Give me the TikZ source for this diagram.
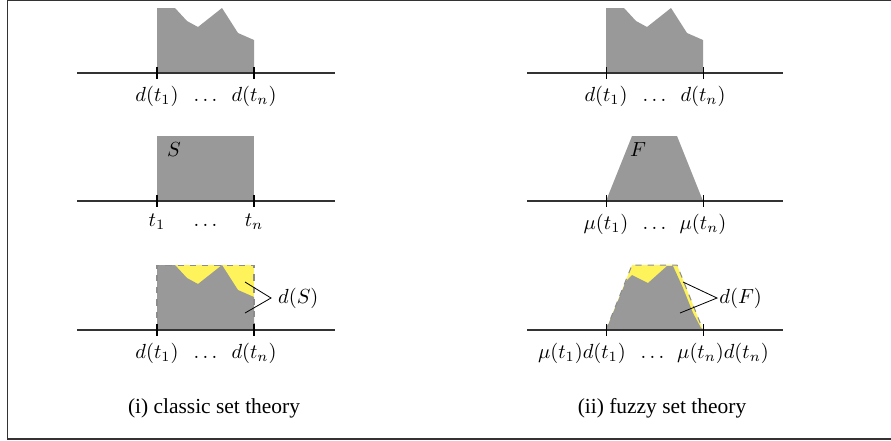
\documentclass[tikz,border=0pt]{standalone}
\usepackage{fontspec}
\newfontfamily\capfont{Liberation Serif}
\usetikzlibrary{positioning, calc}
\definecolor{setgray}{HTML}{999999}
\definecolor{setyellow}{HTML}{FFF35C}
\definecolor{framegray}{HTML}{333333}

\begin{document}
\begin{tikzpicture}[x=0.49pt, y=-0.49pt,
    axisline/.style={draw=black!80, line width=0.6pt},
    tickmark/.style={draw=black, line width=0.5pt},
    bound/.style={draw=black!45, dashed, line width=0.5pt},
    dotsnode/.style={anchor=base},
    caption/.style={font=\capfont\fontsize{10.5}{12}\selectfont}]
  \useasboundingbox (0,0) rectangle (891,440);
  \draw[framegray, line width=0.8pt] (895,0.5) -- (7.5,0.5) -- (7.5,439) -- (895,439);

  % (i) classic set theory
  \fill[setgray] (157,8) -- (175,8) -- (187,21) -- (198,27) -- (222,8) -- (238,33)
    -- (254,40) -- (254,73) -- (157,73) -- cycle;
  \draw[axisline] (77,73) -- (335,73);
  \draw[tickmark] (157,67) -- (157,79) coordinate (a1);
  \draw[tickmark] (254,67) -- (254,79) coordinate (an);
  \node[below=0pt of a1] (la1) {$d(t_1)$};
  \node[below=0pt of an] (lan) {$d(t_n)$};
  \node[dotsnode] (ladots) at ($(la1.base)!0.5!(lan.base)$) {$\ldots$};

  \fill[setgray] (157,136) rectangle (254,201);
  \node (S) at (174,150) {$S$};
  \draw[axisline] (77,201) -- (335,201);
  \draw[tickmark] (157,195) -- (157,207) coordinate (s1);
  \draw[tickmark] (254,195) -- (254,207) coordinate (sn);
  \node[below=0pt of s1] (ls1) {$t_1$};
  \node[below=0pt of sn] (lsn) {$t_n$};
  \node[dotsnode] (lsdots) at ($(ls1.base)!0.5!(lsn.base)$) {$\ldots$};

  \fill[setyellow] (157,265) rectangle (254,330);
  \fill[setgray] (157,265) -- (175,265) -- (187,278) -- (198,284) -- (222,265) -- (238,290)
    -- (254,297) -- (254,330) -- (157,330) -- cycle;
  \draw[bound] (157,330) -- (157,265) -- (254,265) -- (254,330);
  \draw[axisline] (77,330) -- (335,330);
  \draw[tickmark] (157,324) -- (157,336) coordinate (c1);
  \draw[tickmark] (254,324) -- (254,336) coordinate (cn);
  \node[below=0pt of c1] (lc1) {$d(t_1)$};
  \node[below=0pt of cn] (lcn) {$d(t_n)$};
  \node[dotsnode] (lcdots) at ($(lc1.base)!0.5!(lcn.base)$) {$\ldots$};
  \node[anchor=west] (dS) at (271,298) {$d(S)$};
  \coordinate (dSa) at (245,282);
  \coordinate (dSb) at (245,313);
  \draw (dSa) -- (dS.west) -- (dSb);

  \node[caption] (capi) at (214,408) {(i) classic set theory};

  % (ii) fuzzy set theory
  \fill[setgray] (606,8) -- (624,8) -- (636,21) -- (647,27) -- (671,8) -- (687,33)
    -- (703,40) -- (703,73) -- (606,73) -- cycle;
  \draw[axisline] (527,73) -- (783,73);
  \draw[tickmark] (606,67) -- (606,79) coordinate (b1);
  \draw[tickmark] (703,67) -- (703,79) coordinate (bn);
  \node[below=0pt of b1] (lb1) {$d(t_1)$};
  \node[below=0pt of bn] (lbn) {$d(t_n)$};
  \node[dotsnode] (lbdots) at ($(lb1.base)!0.5!(lbn.base)$) {$\ldots$};

  \fill[setgray] (606,201) -- (632,136) -- (677,136) -- (703,201) -- cycle;
  \node (F) at (638,150) {$F$};
  \draw[axisline] (527,201) -- (783,201);
  \draw[tickmark] (606,195) -- (606,207) coordinate (m1);
  \draw[tickmark] (703,195) -- (703,207) coordinate (mn);
  \node[below=0pt of m1] (lm1) {$\mu(t_1)$};
  \node[below=0pt of mn] (lmn) {$\mu(t_n)$};
  \node[dotsnode] (lmdots) at ($(lm1.base)!0.5!(lmn.base)$) {$\ldots$};

  \fill[setyellow] (606,330) -- (632,265) -- (677,265) -- (703,330) -- cycle;
  \fill[setgray] (606,330) -- (626,281) -- (632,275) -- (648,283) -- (667,266) -- (673,266)
    -- (683,288) -- (693,313) -- (701,328) -- (703,330) -- cycle;
  \draw[bound] (606,330) -- (632,265) -- (677,265) -- (703,330);
  \draw[axisline] (527,330) -- (783,330);
  \draw[tickmark] (606,324) -- (606,336) coordinate (f1);
  \draw[tickmark] (703,324) -- (703,336) coordinate (fn);
  \node[below=0pt of f1, xshift=-11.8pt] (lf1) {$\mu(t_1)d(t_1)$};
  \node[below=0pt of fn, xshift=9.8pt] (lfn) {$\mu(t_n)d(t_n)$};
  \node[dotsnode] (lfdots) at ($(lf1.base)!0.5!(lfn.base)$) {$\ldots$};
  \node[anchor=west, inner sep=1pt] (dF) at (717,298) {$d(F)$};
  \coordinate (dFa) at (683,282);
  \coordinate (dFb) at (680,313);
  \draw (dFa) -- (dF.west) -- (dFb);

  \node[caption] (capii) at (662,408) {(ii) fuzzy set theory};
\end{tikzpicture}
\end{document}
